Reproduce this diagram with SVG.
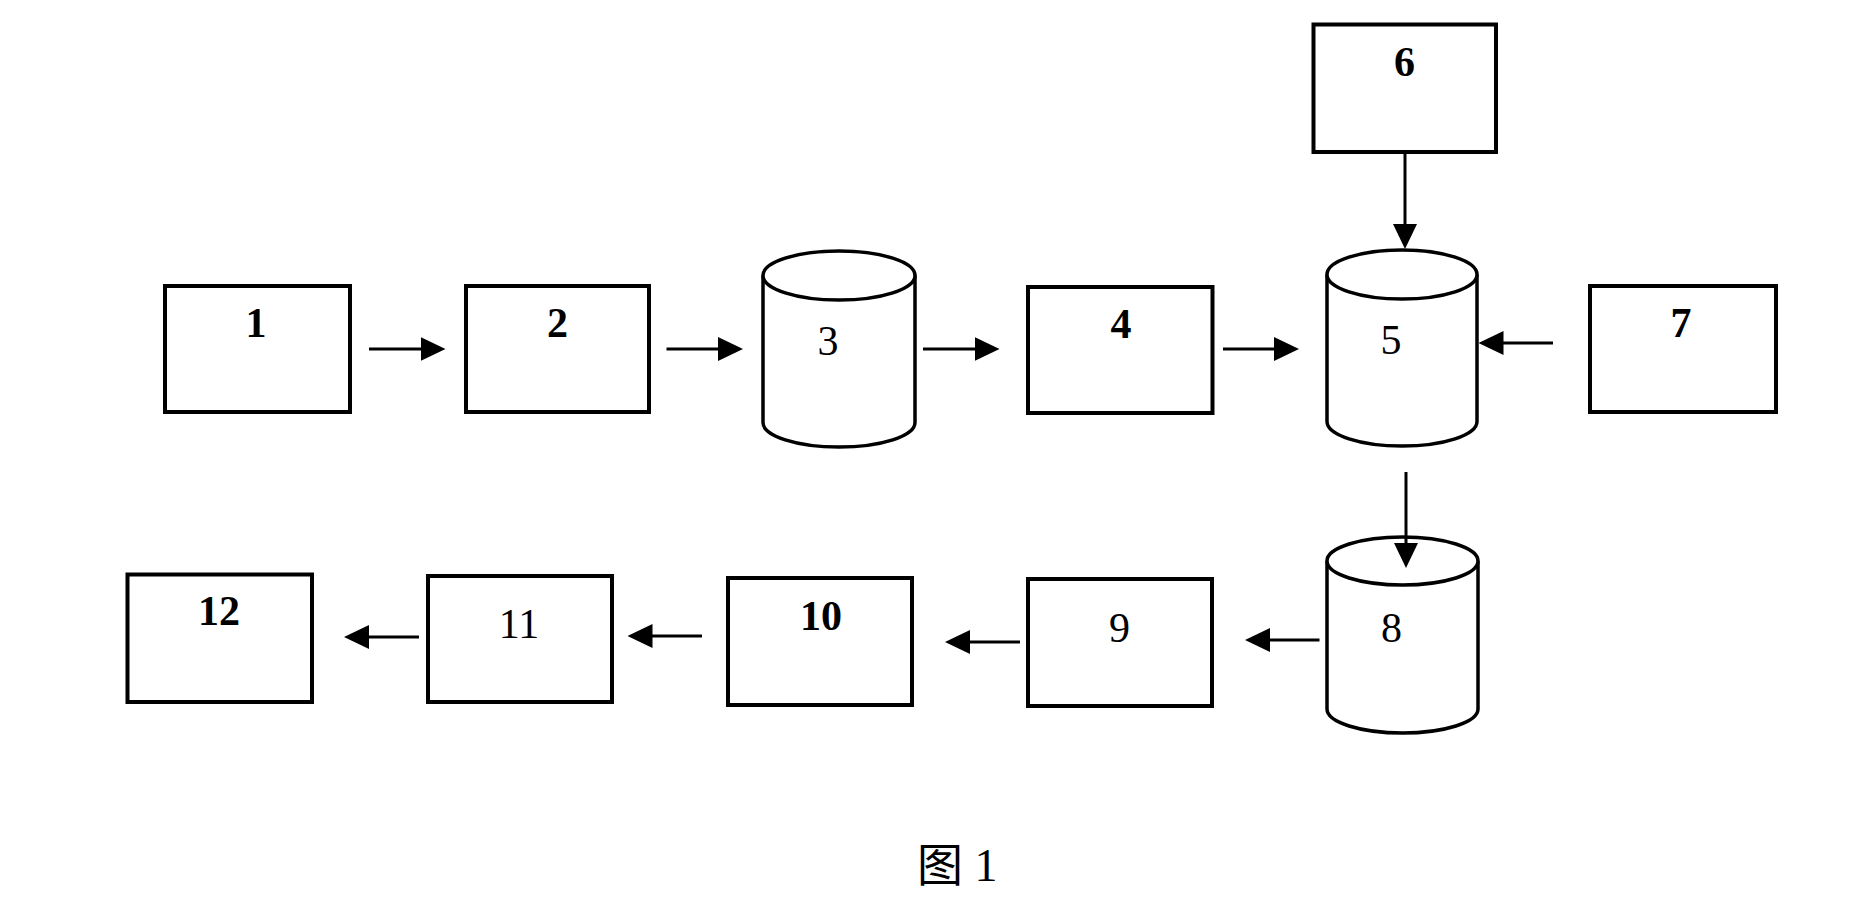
<svg xmlns="http://www.w3.org/2000/svg" width="1873" height="905" viewBox="0 0 1873 905">
<style>
.box{fill:#fff;stroke:#000;stroke-width:4}
.cyl{fill:#fff;stroke:#000;stroke-width:3.5}
.lb{font-family:"Liberation Serif","Times New Roman",serif;font-size:42px;font-weight:bold;text-anchor:middle;fill:#000}
.ln{font-family:"Liberation Serif","Times New Roman",serif;font-size:42px;text-anchor:middle;fill:#000}
.conn line{stroke:#000;stroke-width:3;marker-end:url(#ah)}
</style>
<defs>
<marker id="ah" markerUnits="userSpaceOnUse" viewBox="0 0 25 24" refX="5" refY="12" markerWidth="25" markerHeight="24" orient="auto">
<path d="M0,0 L25,12 L0,24 Z" fill="#000"/>
</marker>
</defs>
<rect width="1873" height="905" fill="#fff"/>
<g id="n1"><rect class="box" x="165" y="286" width="185" height="126"/><text class="lb" x="256" y="337">1</text></g>
<g id="n2"><rect class="box" x="466" y="286" width="183" height="126"/><text class="lb" x="557.5" y="337">2</text></g>
<g id="n3"><path class="cyl" d="M763,275.5 L763,422.5 A76,24.5 0 0 0 915,422.5 L915,275.5"/><ellipse class="cyl" cx="839" cy="275.5" rx="76" ry="24.5"/><text class="ln" x="828" y="355">3</text></g>
<g id="n4"><rect class="box" x="1028" y="287" width="184.5" height="126"/><text class="lb" x="1121" y="338">4</text></g>
<g id="n5"><path class="cyl" d="M1327,274.5 L1327,421.5 A75,24.5 0 0 0 1477,421.5 L1477,274.5"/><ellipse class="cyl" cx="1402" cy="274.5" rx="75" ry="24.5"/><text class="ln" x="1391" y="354">5</text></g>
<g id="n6"><rect class="box" x="1313.5" y="24.5" width="182.5" height="127.5"/><text class="lb" x="1404.5" y="76">6</text></g>
<g id="n7"><rect class="box" x="1590" y="286" width="186" height="126"/><text class="lb" x="1681" y="337">7</text></g>
<g id="n8"><path class="cyl" d="M1327,561 L1327,709 A75.5,24 0 0 0 1478,709 L1478,561"/><ellipse class="cyl" cx="1402.5" cy="561" rx="75.5" ry="24"/><text class="ln" x="1391.5" y="642">8</text></g>
<g id="n9"><rect class="box" x="1028" y="579" width="184" height="127"/><text class="ln" x="1119.5" y="642">9</text></g>
<g id="n10"><rect class="box" x="728" y="578" width="184" height="127"/><text class="lb" x="821" y="630">10</text></g>
<g id="n11"><rect class="box" x="428" y="576" width="184" height="126"/><text class="ln" x="519" y="638">11</text></g>
<g id="n12"><rect class="box" x="127.5" y="574.5" width="184.5" height="127.5"/><text class="lb" x="219" y="625">12</text></g>
<g id="connectors" class="conn">
<line x1="369" y1="349" x2="425.5" y2="349"/>
<line x1="666.5" y1="349" x2="723" y2="349"/>
<line x1="923" y1="349" x2="979.5" y2="349"/>
<line x1="1223" y1="349" x2="1279" y2="349"/>
<line x1="1405" y1="154" x2="1405" y2="229"/>
<line x1="1553" y1="343" x2="1498.5" y2="343"/>
<line x1="1406" y1="472" x2="1406" y2="548"/>
<line x1="1319.5" y1="640" x2="1265" y2="640"/>
<line x1="1020" y1="642" x2="965" y2="642"/>
<line x1="702" y1="636" x2="647.5" y2="636"/>
<line x1="419" y1="637" x2="364" y2="637"/>
</g>
<text x="917" y="881" font-family="'Liberation Serif','Noto Sans CJK SC',serif" font-size="46" fill="#000">图 1</text>
</svg>
